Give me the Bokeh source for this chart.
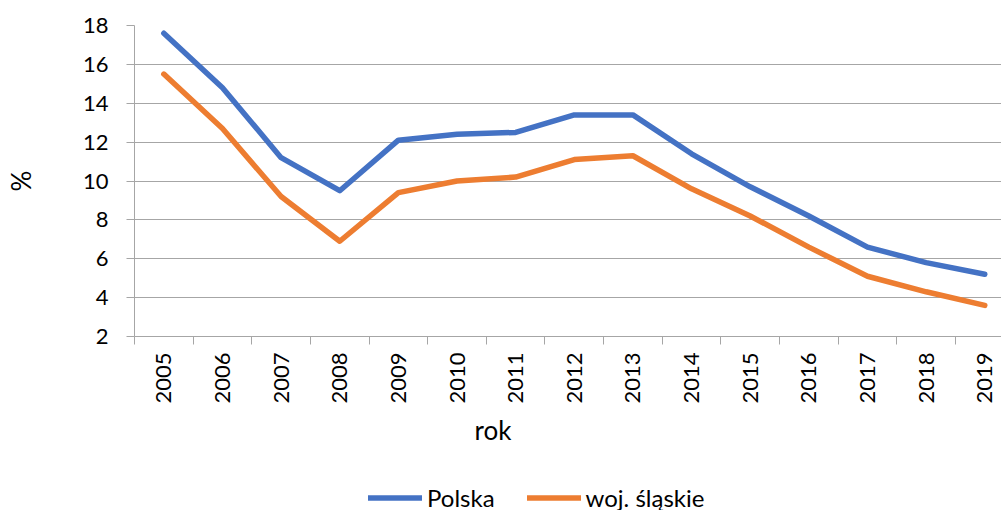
import math
from bokeh.plotting import figure
from bokeh.models import Range1d, FixedTicker, Legend, LegendItem, Title
from bokeh.layouts import column
from bokeh.embed import file_html
from bokeh.resources import INLINE

# ---- data ----
years = list(range(2005, 2020))
polska = [17.6, 14.8, 11.2, 9.5, 12.1, 12.4, 12.5, 13.4, 13.4, 11.4, 9.7, 8.2, 6.6, 5.8, 5.2]
slaskie = [15.5, 12.7, 9.2, 6.9, 9.4, 10.0, 10.2, 11.1, 11.3, 9.6, 8.2, 6.6, 5.1, 4.3, 3.6]
series_names = ["Polska", "woj. śląskie"]
series_colors = ["#4472C4", "#ED7D31"]
y_ticks = [2, 4, 6, 8, 10, 12, 14, 16, 18]
x_tick_labels = [str(y) for y in years]
x_title = "rok"
y_title = "%"

FONT = "Lato"
GRAY = "#a6a6a6"

W = 1001
H_LEG = 26
H_MAIN = 510 - H_LEG
LEFT, TOP = 134, 25
FRAME_BOTTOM = 336
cat_px = 58.64
frame_w = W - LEFT

p = figure(width=W, height=H_MAIN, output_backend="svg", toolbar_location=None,
           x_range=Range1d(years[0] - 0.5, years[0] - 0.5 + frame_w / cat_px),
           y_range=Range1d(y_ticks[0], y_ticks[-1]),
           min_border_left=LEFT, min_border_right=0, min_border_top=TOP,
           min_border_bottom=H_MAIN - FRAME_BOTTOM)
p.outline_line_color = None
p.background_fill_color = "white"
p.border_fill_color = "white"

# grid
p.xgrid.visible = False
p.ygrid.grid_line_color = GRAY
p.ygrid.grid_line_width = 1

# y axis
ya = p.yaxis[0]
ya.ticker = FixedTicker(ticks=y_ticks)
ya.axis_line_color = GRAY
ya.major_tick_line_color = GRAY
ya.major_tick_out = 8
ya.major_tick_in = 0
ya.minor_tick_line_color = None
ya.major_label_text_font = FONT
ya.major_label_text_font_size = "22px"
ya.major_label_text_color = "#000000"
ya.major_label_standoff = 18
ya.axis_label = y_title
ya.axis_label_text_font = FONT
ya.axis_label_text_font_size = "26px"
ya.axis_label_text_font_style = "normal"
ya.axis_label_text_color = "#000000"
ya.axis_label_standoff = 43

# x axis
xa = p.xaxis[0]
xa.ticker = FixedTicker(ticks=years, minor_ticks=[y - 0.5 for y in years])
xa.major_label_overrides = {y: s for y, s in zip(years, x_tick_labels)}
xa.axis_line_color = GRAY
xa.major_tick_line_color = None
xa.major_tick_out = 8
xa.major_tick_in = 0
xa.minor_tick_line_color = GRAY
xa.minor_tick_out = 8
xa.minor_tick_in = 0
xa.major_label_orientation = math.pi / 2
xa.major_label_standoff = 8
xa.major_label_text_font = FONT
xa.major_label_text_font_size = "22px"
xa.major_label_text_color = "#000000"

# series
for vals, col in zip([polska, slaskie], series_colors):
    p.line(years, vals, line_color=col, line_width=5.5, line_cap="round", line_join="round")

# x title (below the tick labels)
p.add_layout(Title(text=x_title, align="left", offset=340, vertical_align="top", standoff=14,
                   text_font=FONT, text_font_size="26px", text_font_style="normal",
                   text_color="#000000"), "below")

# ---- legend strip under the chart ----
leg = figure(width=W, height=H_LEG, output_backend="svg", toolbar_location=None,
             x_range=Range1d(0, 1), y_range=Range1d(0, 1),
             x_axis_location=None, y_axis_location=None,
             min_border_left=0, min_border_right=0, min_border_top=0, min_border_bottom=0)
leg.outline_line_color = None
leg.grid.visible = False
leg.background_fill_color = "white"
leg.border_fill_color = "white"

# legend swatches: one undrawn (NaN) point each, styled like the series
nan = float("nan")
swatches = []
for col in series_colors:
    swatches.append(leg.line(x=[nan], y=[nan], line_color=col, line_width=5.5, line_cap="round"))

legend = Legend(items=[LegendItem(label=n, renderers=[r]) for n, r in zip(series_names, swatches)],
                location="left", orientation="horizontal", padding=0, margin=234,
                spacing=32, glyph_width=54, glyph_height=20, label_standoff=5,
                label_text_font=FONT, label_text_font_size="24px", label_text_color="#000000",
                border_line_color=None, background_fill_alpha=0)
leg.add_layout(legend)

layout = column(p, leg, spacing=0)
open("out.html", "w").write(file_html(layout, INLINE))
